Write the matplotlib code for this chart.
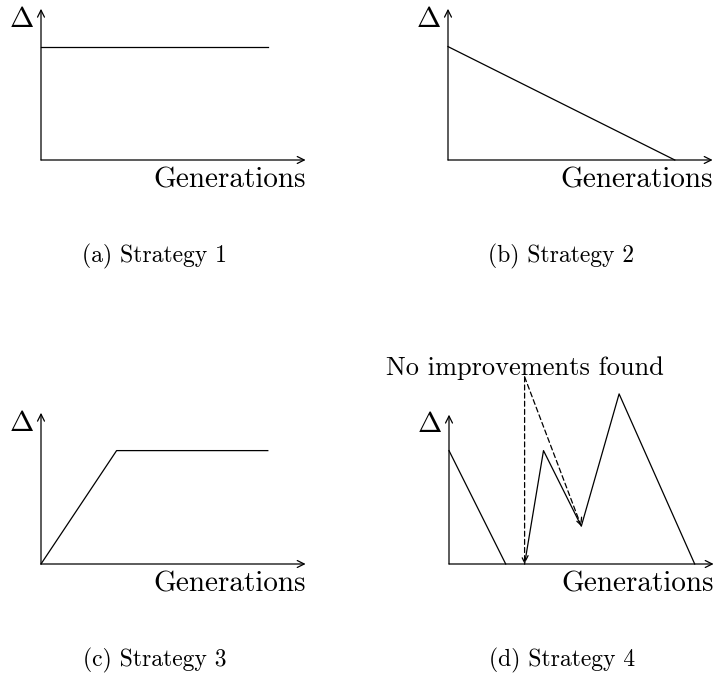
import matplotlib
matplotlib.use('Agg')
import matplotlib.pyplot as plt

plt.rcParams['font.family'] = 'cmr10'
plt.rcParams['mathtext.fontset'] = 'cm'
plt.rcParams['axes.formatter.use_mathtext'] = True

# data (in cm-like units, as in the original drawing)
a_x = [0, 6]
a_y = [3, 3]
b_x = [0, 6]
b_y = [3, 0]
c_x = [0, 2, 6]
c_y = [0, 3, 3]
d1_x = [0, 1.5]
d1_y = [3, 0]
d2_x = [2, 2.5, 3.5, 4.5, 6.5]
d2_y = [0, 3, 1, 4.5, 0]
# dashed "no improvement" pointers: start -> end
d_note_start = (2, 4.95)
d_note_ends = [(2, 0), (3.5, 1)]

captions = ['(a) Strategy 1', '(b) Strategy 2', '(c) Strategy 3', '(d) Strategy 4']
xlabel = 'Generations'
ylabel = r'$\Delta$'
note = 'No improvements found'

W, H = 713, 673
U = 37.8  # pixels per unit
fig = plt.figure(figsize=(W / 100, H / 100), dpi=100)


def panel(ox, oy, x0, y0, x1, y1):
    ax = fig.add_axes([x0 / W, 1 - y1 / H, (x1 - x0) / W, (y1 - y0) / H])
    ax.set_xlim((x0 - ox) / U, (x1 - ox) / U)
    ax.set_ylim((oy - y1) / U, (oy - y0) / U)
    ax.axis('off')
    return ax


def arrow(ax, start, end, ls='-'):
    ax.annotate('', xy=end, xytext=start, annotation_clip=False,
                arrowprops=dict(arrowstyle='->,head_length=0.5,head_width=0.25',
                                lw=0.9, color='black', shrinkA=0, shrinkB=0,
                                linestyle=ls))


def axes_frame(ax, caption, ytop=4):
    arrow(ax, (0, 0), (7, 0))
    arrow(ax, (0, 0), (0, ytop))
    ax.text(-0.2, ytop - 0.47, ylabel, ha='right', va='baseline', fontsize=21)
    ax.text(7.0, -0.74, xlabel, ha='right', va='baseline', fontsize=21)
    ax.text(3.0, -2.70, caption, ha='center', va='baseline', fontsize=17)


axa = panel(41, 160, 0, 0, 356, 336)
axes_frame(axa, captions[0])
axa.plot(a_x, a_y, color='black', lw=0.9)

axb = panel(448, 160, 356, 0, 713, 336)
axes_frame(axb, captions[1])
axb.plot(b_x, b_y, color='black', lw=0.9, clip_on=False)

axc = panel(41, 564, 0, 336, 356, 673)
axes_frame(axc, captions[2])
axc.plot(c_x, c_y, color='black', lw=0.9, clip_on=False)

axd = panel(449, 564, 356, 336, 713, 673)
axes_frame(axd, captions[3], ytop=3.95)
axd.plot(d1_x, d1_y, color='black', lw=0.9, clip_on=False)
axd.plot(d2_x, d2_y, color='black', lw=0.9, clip_on=False)
for end in d_note_ends:
    arrow(axd, d_note_start, end, ls=(0, (4, 2.5)))
axd.text(2.0, 5.0, note, ha='center', va='baseline', fontsize=19)

fig.savefig('out.png', dpi=100)
